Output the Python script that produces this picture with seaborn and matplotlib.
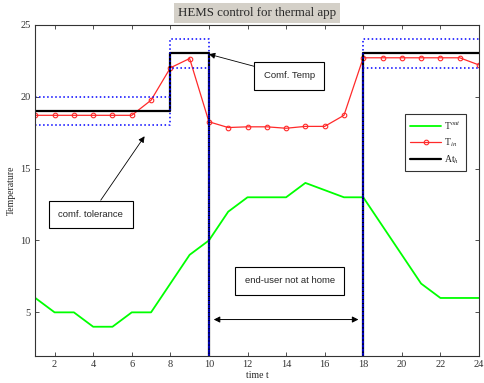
import numpy as np
import pandas as pd
import matplotlib
matplotlib.use("Agg")
import matplotlib.pyplot as plt
import seaborn as sns

hours = list(range(1, 25))
t_out = [6, 5, 5, 4, 4, 5, 5, 7, 9, 10, 12, 13, 13, 13, 14, 13.5, 13, 13, 11, 9, 7, 6, 6, 6]
t_in = [18.7, 18.7, 18.7, 18.7, 18.7, 18.7, 19.75, 22.0, 22.65, 18.25, 17.85, 17.9,
        17.9, 17.8, 17.93, 17.93, 18.7, 22.7, 22.7, 22.7, 22.7, 22.7, 22.7, 22.2]
at_h = [19, 19, 19, 19, 19, 19, 19, 23, 23, 0, 0, 0, 0, 0, 0, 0, 0, 23, 23, 23, 23, 23, 23, 23]
tol = 1
upper = [v + tol for v in at_h]
lower = [v - tol for v in at_h]

df = pd.DataFrame({"t": hours, "Tout": t_out, "Tin": t_in, "At": at_h,
                   "up": upper, "lo": lower})

sns.set_style("ticks")
plt.rcParams['font.family'] = ['Liberation Serif', 'DejaVu Serif']
plt.rcParams['mathtext.fontset'] = 'stix'

fig = plt.figure(figsize=(4.85, 3.83), dpi=100)
ax = fig.add_axes([0.0728, 0.0718, 0.9148, 0.8637])

sns.lineplot(data=df, x="t", y="Tout", ax=ax, color="#00ff00", linewidth=1.3, label=r"T$^{out}$")
sns.lineplot(data=df, x="t", y="Tin", ax=ax, color="#ff2a2a", linewidth=0.9, marker="o",
             markersize=3.3, markerfacecolor="none", markeredgecolor="#ff2a2a",
             markeredgewidth=0.8, label=r"T$_{in}$")
sns.lineplot(data=df, x="t", y="At", ax=ax, color="black", linewidth=1.6,
             drawstyle="steps-post", label=r"At$_h$")
sns.lineplot(data=df, x="t", y="up", ax=ax, color="blue", linestyle=":", linewidth=1.1,
             drawstyle="steps-post", legend=False)
sns.lineplot(data=df, x="t", y="lo", ax=ax, color="blue", linestyle=":", linewidth=1.1,
             drawstyle="steps-post", legend=False)

ax.set_xlim(1, 24)
ax.set_ylim(2, 25)
ax.set_xticks(range(2, 25, 2))
ax.set_yticks([5, 10, 15, 20, 25])
ax.tick_params(direction="in", top=True, right=True, labelsize=7.5, length=3, width=0.6,
               colors="#333333", labelcolor="#333333")
for s in ax.spines.values():
    s.set_linewidth(0.8)
    s.set_color("#333333")
ax.set_xlabel("time t", fontsize=7, labelpad=1)
ax.set_ylabel("Temperature", fontsize=7, labelpad=3)
ax.set_title("HEMS control for thermal app", fontsize=9.3, pad=6,
             bbox=dict(facecolor="#d4d0c8", edgecolor="none", pad=2.8))

leg = ax.legend(loc="upper left", bbox_to_anchor=(0.823, 0.745), fontsize=7,
                frameon=True, fancybox=False, edgecolor="black", handlelength=3.2,
                borderpad=0.5, labelspacing=0.5, handletextpad=0.3)
leg.get_frame().set_linewidth(0.8)

sans = ['Liberation Sans', 'DejaVu Sans']
boxp = dict(boxstyle="square,pad=1.0", facecolor="white", edgecolor="black", linewidth=0.8)
ax.annotate("Comf. Temp", xy=(10, 22.95), xytext=(12.85, 21.45), fontsize=6.8,
            family=sans, bbox=boxp, va="center", ha="left",
            arrowprops=dict(arrowstyle="-|>", color="black", lw=0.6, mutation_scale=9,
                            shrinkA=0, shrinkB=0))
ax.annotate("comf. tolerance", xy=(6.95, 17.8), xytext=(2.2, 11.8), fontsize=6.8,
            family=sans, bbox=boxp, va="center", ha="left",
            arrowprops=dict(arrowstyle="-|>", color="black", lw=0.6, mutation_scale=9,
                            shrinkA=0, shrinkB=7))
ax.text(11.85, 7.2, "end-user not at home", fontsize=6.8, family=sans, bbox=boxp,
        va="center", ha="left")
ax.annotate("", xy=(10.25, 4.5), xytext=(17.75, 4.5),
            arrowprops=dict(arrowstyle="<|-|>", color="black", lw=0.7, mutation_scale=9,
                            shrinkA=0, shrinkB=0))

fig.savefig("out.png", dpi=100)
